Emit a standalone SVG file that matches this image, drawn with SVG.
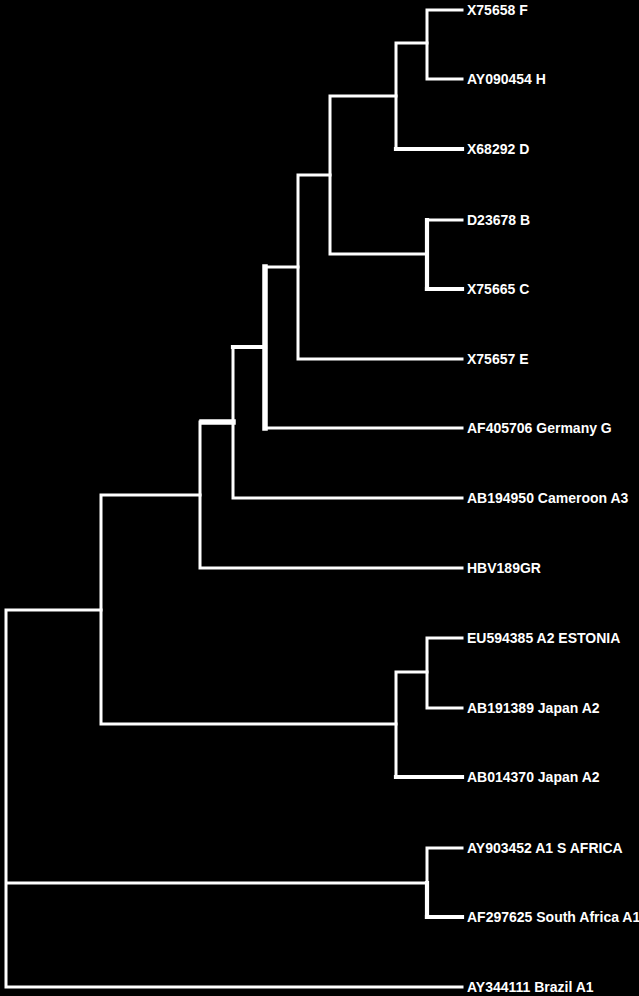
<svg xmlns="http://www.w3.org/2000/svg" width="639" height="996" viewBox="0 0 639 996">
<style>
.e{fill:none;stroke:#fff;stroke-width:3;stroke-linecap:square}
.m{stroke-width:4.2}
.t{stroke-width:5.5}
text{fill:#fff;font-family:"Liberation Sans",Arial,sans-serif;font-size:14px;font-weight:bold}
</style>
<rect width="639" height="996" fill="#000"/>
<g id="edges">
<path class="e" d="M427 10V79M427 10H462M427 79H462"/>
<path class="e" d="M396 43V149M396 43H427"/>
<path class="e" d="M427 220H462"/>
<path class="e" d="M330 96V254M330 96H396M330 254H427"/>
<path class="e" d="M298 175V359M298 175H330M298 359H462"/>
<path class="e" d="M265 267H298M265 428H462"/>
<path class="e" d="M233 347V498M233 498H462"/>
<path class="e" d="M200 422V568M200 568H462"/>
<path class="e" d="M427 638V708M427 638H462M427 708H462"/>
<path class="e" d="M396 672V777M396 672H427"/>
<path class="e" d="M101 495V724M101 495H200M101 724H396"/>
<path class="e" d="M427 848V883M427 848H462"/>
<path class="e" d="M6 610V987M6 610H101M6 883H427M6 987H462"/>
<path class="e m" d="M396 149H462M427 289H462M396 777H462M427 917H462M233 347H265"/>
<path class="e m" d="M427 220V289M427 883V917"/>
<path class="e t" d="M202 422H233M265 267V428"/>
</g>
<g id="n1"><text x="467" y="15">X75658 F</text></g>
<g id="n2"><text x="467" y="84">AY090454 H</text></g>
<g id="n3"><text x="467" y="154">X68292 D</text></g>
<g id="n4"><text x="467" y="225">D23678 B</text></g>
<g id="n5"><text x="467" y="294">X75665 C</text></g>
<g id="n6"><text x="467" y="364">X75657 E</text></g>
<g id="n7"><text x="467" y="433">AF405706 Germany G</text></g>
<g id="n8"><text x="467" y="503">AB194950 Cameroon A3</text></g>
<g id="n9"><text x="467" y="573">HBV189GR</text></g>
<g id="n10"><text x="467" y="643">EU594385 A2 ESTONIA</text></g>
<g id="n11"><text x="467" y="713">AB191389 Japan A2</text></g>
<g id="n12"><text x="467" y="782">AB014370 Japan A2</text></g>
<g id="n13"><text x="467" y="853">AY903452 A1 S AFRICA</text></g>
<g id="n14"><text x="467" y="922">AF297625 South Africa A1</text></g>
<g id="n15"><text x="467" y="992">AY344111 Brazil A1</text></g>
</svg>
